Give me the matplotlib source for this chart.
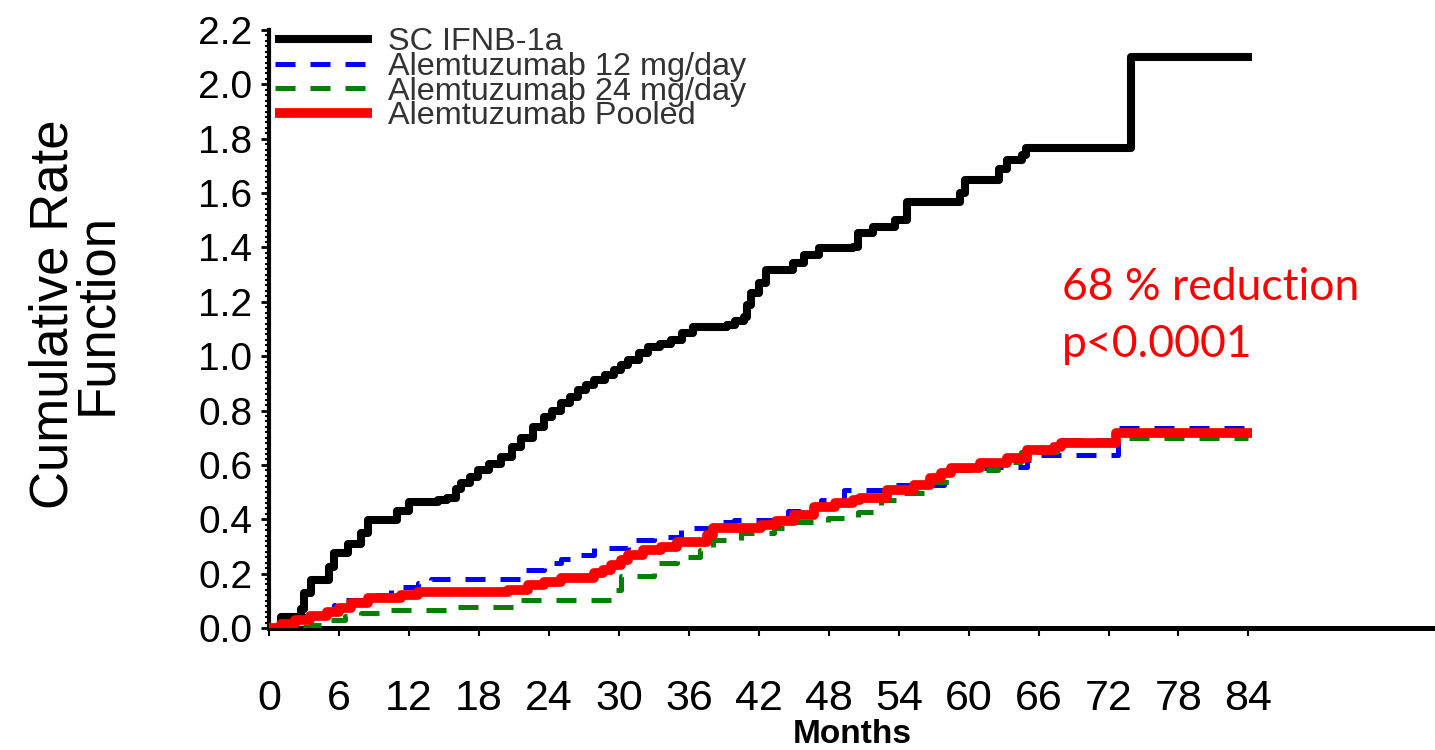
import numpy as np
import matplotlib
matplotlib.use("Agg")
import matplotlib.pyplot as plt
from matplotlib.ticker import MultipleLocator

plt.rcParams['font.family'] = ['Liberation Sans', 'DejaVu Sans']

# cumulative rate function (month of jump, new value)
t_ifnb = [0, 1.0, 2.7, 3.0, 3.6, 5.1, 5.6, 6.8, 7.9, 8.5, 11.0, 12.0, 14.5, 15.3, 16.0,
          16.5, 17.2, 17.9, 18.9, 19.9, 20.8, 21.6, 22.6, 23.6, 24.3, 25.0, 25.8, 26.5,
          27.2, 27.9, 28.8, 29.6, 30.2, 30.8, 31.7, 32.5, 33.5, 34.5, 35.4, 36.4, 39.3,
          40.0, 40.7, 41.0, 41.3, 42.0, 42.6, 44.9, 45.9, 47.2, 50.1, 50.5, 51.8, 53.7,
          54.7, 59.3, 59.7, 62.6, 63.3, 64.6, 64.9, 73.9, 84.3]
y_ifnb = [0, 0.04, 0.07, 0.13, 0.176, 0.224, 0.276, 0.31, 0.35, 0.397, 0.43, 0.463, 0.472,
          0.48, 0.51, 0.533, 0.555, 0.58, 0.605, 0.63, 0.665, 0.70, 0.74, 0.776, 0.80,
          0.827, 0.85, 0.875, 0.895, 0.912, 0.93, 0.95, 0.968, 0.985, 1.01, 1.033, 1.045,
          1.06, 1.085, 1.107, 1.114, 1.13, 1.143, 1.19, 1.232, 1.27, 1.316, 1.342, 1.371,
          1.397, 1.40, 1.452, 1.474, 1.50, 1.566, 1.60, 1.647, 1.69, 1.72, 1.739, 1.765,
          2.10, 2.10]

t_12 = [0, 1.2, 2.2, 3.6, 5.6, 6.5, 8.5, 10.5, 12.8, 13.9, 20.5, 21.9, 23.6, 25.0, 25.9,
        27.9, 30.8, 33.0, 35.3, 37.9, 39.9, 44.5, 45.6, 47.3, 49.3, 53.3, 57.9, 58.7,
        62.5, 65.0, 65.9, 72.8, 84.0]
y_12 = [0, 0.025, 0.045, 0.059, 0.085, 0.103, 0.121, 0.151, 0.165, 0.18, 0.18, 0.213,
        0.239, 0.255, 0.268, 0.294, 0.324, 0.335, 0.368, 0.39, 0.397, 0.43, 0.452, 0.47,
        0.507, 0.526, 0.537, 0.588, 0.592, 0.618, 0.636, 0.735, 0.735]

t_24 = [0, 2.0, 3.6, 5.0, 6.5, 7.9, 10.2, 15.3, 21.6, 29.3, 30.2, 33.0, 35.0, 37.0, 38.1,
        40.5, 43.3, 45.0, 47.9, 50.5, 52.5, 54.2, 56.5, 58.7, 62.5, 64.5, 67.6, 72.6, 84.0]
y_24 = [0, 0.005, 0.011, 0.03, 0.045, 0.055, 0.066, 0.077, 0.103, 0.14, 0.19, 0.239, 0.261,
        0.287, 0.324, 0.349, 0.368, 0.39, 0.404, 0.426, 0.47, 0.496, 0.537, 0.581, 0.61,
        0.647, 0.69, 0.70, 0.70]

t_pool = [0, 1.0, 2.2, 3.5, 5.0, 6.0, 7.0, 8.5, 11.3, 12.8, 19.3, 20.5, 22.2, 23.6, 25.0,
          27.9, 28.6, 29.3, 30.2, 30.8, 32.1, 33.6, 35.0, 37.6, 38.1, 42.2, 43.5, 45.0,
          46.7, 48.5, 50.1, 50.7, 53.0, 55.3, 56.7, 57.6, 58.5, 61.0, 63.3, 65.0, 67.3,
          67.9, 72.6, 84.3]
y_pool = [0, 0.015, 0.03, 0.045, 0.06, 0.075, 0.092, 0.11, 0.121, 0.132, 0.132, 0.14,
          0.158, 0.17, 0.184, 0.202, 0.215, 0.232, 0.25, 0.268, 0.287, 0.298, 0.316, 0.342,
          0.368, 0.379, 0.395, 0.415, 0.445, 0.458, 0.47, 0.478, 0.507, 0.526, 0.551, 0.57,
          0.588, 0.607, 0.625, 0.654, 0.665, 0.68, 0.716, 0.716]

labels = ["SC IFNB-1a", "Alemtuzumab 12 mg/day", "Alemtuzumab 24 mg/day", "Alemtuzumab Pooled"]
xticks = np.arange(0, 85, 6)
yticks = np.arange(0, 2.21, 0.2)

fig = plt.figure(figsize=(14.35, 7.5), dpi=100)
ax = fig.add_axes([0.1875, 0.1627, 0.8125, 0.7973])

l1, = ax.plot(t_ifnb, y_ifnb, drawstyle='steps-post', color='black', lw=5.8,
              solid_capstyle='butt', zorder=4)
l2, = ax.plot(t_12, y_12, drawstyle='steps-post', color='#0000ff', lw=3.6,
              dashes=(4, 3), zorder=3)
l3, = ax.plot(t_24, y_24, drawstyle='steps-post', color='#008000', lw=3.6,
              dashes=(4, 3), zorder=3)
l4, = ax.plot(t_pool, y_pool, drawstyle='steps-post', color='#ff0000', lw=7,
              solid_capstyle='butt', zorder=5)

ax.set_xlim(0, 100)
ax.set_ylim(0, 2.2)
ax.set_xticks(xticks)
ax.set_xticklabels([str(v) for v in xticks])
ax.set_yticks(yticks)
ax.set_yticklabels(["%.1f" % v for v in yticks])
ax.yaxis.set_minor_locator(MultipleLocator(0.02))

for s in ['top', 'right']:
    ax.spines[s].set_visible(False)
ax.spines['bottom'].set_linewidth(3.6)
ax.spines['left'].set_linewidth(3)

ax.tick_params(axis='x', which='major', length=6, width=1.5, pad=31, labelsize=31)
ax.tick_params(axis='y', which='major', length=6, width=2, pad=6, labelsize=28)
ax.tick_params(axis='y', which='minor', length=3, width=1.5)

ax.set_xlabel("Months", fontsize=24, fontweight='bold', labelpad=0)
ax.set_ylabel("Cumulative Rate\nFunction", fontsize=38, linespacing=0.85)
ax.yaxis.set_label_coords(-0.126, 0.525)

leg = ax.legend([l1, l2, l3, l4], labels, loc='upper left', bbox_to_anchor=(0.005, 1.005),
                frameon=False, fontsize=23.3, handlelength=3.0, handletextpad=0.5,
                labelspacing=-0.16, borderpad=0, borderaxespad=0)
for txt in leg.get_texts():
    txt.set_color('#333333')

ax.text(0.68, 0.522, "68 % reduction\np<0.0001", transform=ax.transAxes, color='#ff0000',
        fontsize=32, family=['Lato', 'DejaVu Sans'], va='center', ha='left', linespacing=1.5)

fig.savefig("out.png", dpi=100)
